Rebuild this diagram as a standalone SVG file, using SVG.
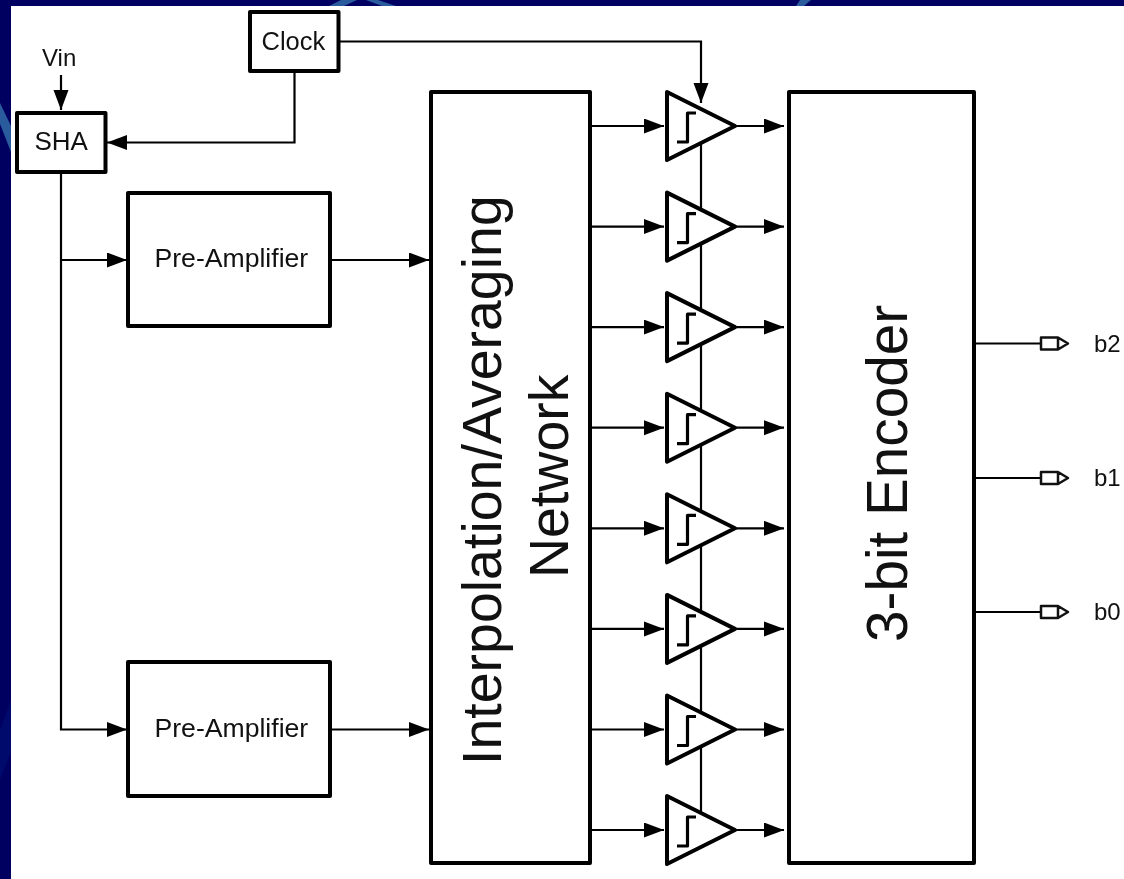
<svg xmlns="http://www.w3.org/2000/svg" width="1124" height="879" viewBox="0 0 1124 879">
<style>
.box{fill:#fff;stroke:#000;stroke-width:4;stroke-linejoin:round}
.amp{fill:#fff;stroke:#000;stroke-width:4;stroke-linejoin:round}
.step{fill:none;stroke:#000;stroke-width:3.200;stroke-linejoin:round}
.w{fill:none;stroke:#000;stroke-width:2.200}
.a{marker-end:url(#arrow)}
.pin{fill:#fff;stroke:#111;stroke-width:2.500;stroke-linejoin:round}
text{font-family:"Liberation Sans",Arial,sans-serif;fill:#111}
.s{font-size:26px}
.l{font-size:24px}
.b{font-size:55.500px}
.deco{fill:#2a5b9c}
</style>
<defs>
<filter id="soft" x="0" y="0" width="1124" height="879" filterUnits="userSpaceOnUse" color-interpolation-filters="sRGB">
<feGaussianBlur stdDeviation="0.450"/>
</filter>
<marker id="arrow" markerUnits="userSpaceOnUse" markerWidth="21" markerHeight="16" refX="20" refY="7.500" orient="auto">
<path d="M0,0 L20,7.500 L0,15 Z" fill="#000"/>
</marker>
<g id="cmp">
<path class="amp" d="M-34,-34 L34,0 L-34,34 Z"/>
<path class="step" d="M-24,16 H-13.500 V-13 H-5"/>
</g>
<g id="pin">
<path class="pin" d="M0,-6 H17 L27,0 L17,6 H0 Z M17,-6 V6"/>
</g>
</defs>

<g id="background">
<rect width="1124" height="879" fill="#fff"/>
<rect width="1124" height="6" fill="#000062"/>
<rect width="11" height="879" fill="#000060"/>
<path class="deco" d="M341,0 H357 L344,6 H329 Z"/>
<path class="deco" d="M366,0 H378 L396,6 H382 Z"/>
<path class="deco" d="M800,0 H811 L804,6 H796 Z"/>
<path class="deco" d="M0,103 L11,126 V152 L0,124 Z"/>
<path fill="#000a6c" d="M11,700 V752 L0,780 V730 Z"/>
</g>

<g id="diagram" filter="url(#soft)">
<g id="connectors">
<path class="w" d="M339,41.500 H701 V103" marker-end="url(#arrow)"/>
<path class="w a" d="M294.500,71 V142.500 H107"/>
<path class="w a" d="M61,75 V110"/>
<path class="w a" d="M61,172 V729.500 H127"/>
<path class="w a" d="M61,260 H127"/>
<path class="w a" d="M330,260 H429"/>
<path class="w a" d="M330,729.500 H429"/>
<path class="w" d="M701,110 V815"/>
<path class="w a" d="M591,126 H664"/>
<path class="w a" d="M591,226.600 H664"/>
<path class="w a" d="M591,327.100 H664"/>
<path class="w a" d="M591,427.700 H664"/>
<path class="w a" d="M591,528.300 H664"/>
<path class="w a" d="M591,628.900 H664"/>
<path class="w a" d="M591,729.500 H664"/>
<path class="w a" d="M591,830 H664"/>
<path class="w a" d="M736,126 H784"/>
<path class="w a" d="M736,226.600 H784"/>
<path class="w a" d="M736,327.100 H784"/>
<path class="w a" d="M736,427.700 H784"/>
<path class="w a" d="M736,528.300 H784"/>
<path class="w a" d="M736,628.900 H784"/>
<path class="w a" d="M736,729.500 H784"/>
<path class="w a" d="M736,830 H784"/>
<path class="w" d="M975,343.500 H1041"/>
<path class="w" d="M975,478 H1041"/>
<path class="w" d="M975,612 H1041"/>
</g>

<g id="vin"><text class="l" x="42" y="66">Vin</text></g>
<g id="clock"><rect class="box" x="250" y="12" width="88.500" height="59"/><text class="s" x="261.500" y="50" style="font-size:25.500px">Clock</text></g>
<g id="sha"><rect class="box" x="17" y="113" width="88.500" height="59"/><text class="s" x="34.500" y="150">SHA</text></g>
<g id="preamp1"><rect class="box" x="128" y="193" width="202" height="133"/><text class="s" x="154.500" y="267" style="font-size:26.600px">Pre-Amplifier</text></g>
<g id="preamp2"><rect class="box" x="128" y="662" width="202" height="134"/><text class="s" x="154.500" y="737" style="font-size:26.600px">Pre-Amplifier</text></g>
<g id="interpolation"><rect class="box" x="431" y="92" width="159" height="771"/>
<text class="b" transform="translate(500.700 765) rotate(-90)">Interpolation/Averaging</text>
<text class="b" transform="translate(568 578) rotate(-90)">Network</text></g>
<g id="encoder"><rect class="box" x="789" y="92" width="185" height="771"/>
<text class="b" transform="translate(906.700 642) rotate(-90)" style="font-size:56.700px">3-bit Encoder</text></g>
<g id="cmp1"><use href="#cmp" x="701" y="126"/></g>
<g id="cmp2"><use href="#cmp" x="701" y="226.600"/></g>
<g id="cmp3"><use href="#cmp" x="701" y="327.100"/></g>
<g id="cmp4"><use href="#cmp" x="701" y="427.700"/></g>
<g id="cmp5"><use href="#cmp" x="701" y="528.300"/></g>
<g id="cmp6"><use href="#cmp" x="701" y="628.900"/></g>
<g id="cmp7"><use href="#cmp" x="701" y="729.500"/></g>
<g id="cmp8"><use href="#cmp" x="701" y="830"/></g>
<g id="b2"><use href="#pin" x="1041" y="343.500"/><text class="l" x="1094" y="352">b2</text></g>
<g id="b1"><use href="#pin" x="1041" y="478"/><text class="l" x="1094" y="486">b1</text></g>
<g id="b0"><use href="#pin" x="1041" y="612"/><text class="l" x="1094" y="620">b0</text></g>
</g>
</svg>
